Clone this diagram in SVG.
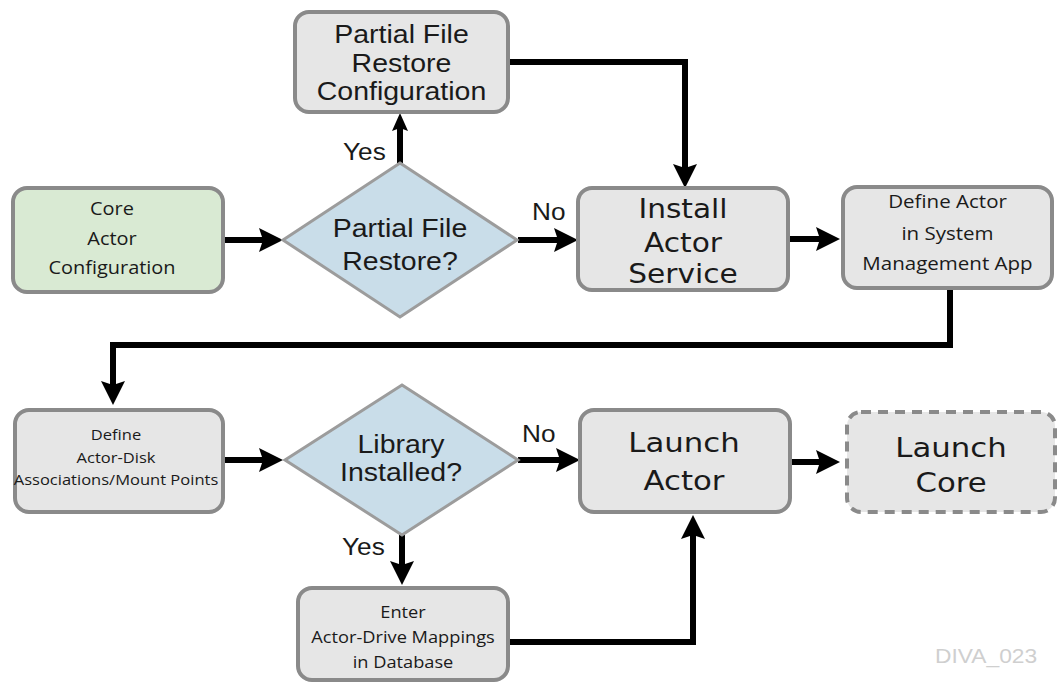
<svg xmlns="http://www.w3.org/2000/svg" width="1058" height="685" viewBox="0 0 1058 685">
<style>
.box{fill:#e6e6e6;stroke:#8a8a8a;stroke-width:4}
.green{fill:#d9ead3}
.dash{stroke-dasharray:10 7}
.dia{fill:#c9dde9;stroke:#9c9c9c;stroke-width:3}
.ar{font-family:"Liberation Sans",Arial,sans-serif;fill:#1a1a1a;text-anchor:middle}
.dv{font-family:"DejaVu Sans",Verdana,sans-serif;fill:#1a1a1a;text-anchor:middle}
.os{font-family:"Open Sans","Noto Sans",sans-serif;fill:#1a1a1a;text-anchor:middle}
.lbl{font-family:"Liberation Sans",Arial,sans-serif;fill:#1a1a1a;font-size:23px}
.conn{fill:none;stroke:#000;stroke-width:6}
</style>
<defs>
<marker id="ah" markerUnits="userSpaceOnUse" markerWidth="24" markerHeight="24" refX="14" refY="12" orient="auto">
<path d="M0,0 L24,12 L0,24 L4,12 z" fill="#000"/>
</marker>
<marker id="ahs" markerUnits="userSpaceOnUse" markerWidth="18" markerHeight="16" refX="10" refY="8" orient="auto">
<path d="M0,0 L18,8 L0,16 L3,8 z" fill="#000"/>
</marker>
</defs>
<rect width="1058" height="685" fill="#fff"/>

<g id="connectors">
<path class="conn" d="M223,240 H273" marker-end="url(#ah)"/>
<path class="conn" d="M400,163 V121" marker-end="url(#ahs)"/>
<path class="conn" d="M508,62 H685 V178" marker-end="url(#ah)"/>
<path class="conn" d="M518,240 H568" marker-end="url(#ah)"/>
<path class="conn" d="M788,239 H830" marker-end="url(#ah)"/>
<path class="conn" d="M950,288 V345 H113 V395" marker-end="url(#ah)"/>
<path class="conn" d="M223,460 H273" marker-end="url(#ah)"/>
<path class="conn" d="M518,460 H570" marker-end="url(#ah)"/>
<path class="conn" d="M790,462 H830" marker-end="url(#ah)"/>
<path class="conn" d="M402,535 V575" marker-end="url(#ah)"/>
<path class="conn" d="M508,642 H693 V525" marker-end="url(#ah)"/>
<g class="lbl">
<text transform="translate(343,160) scale(1.14,1)">Yes</text>
<text transform="translate(532,220) scale(1.14,1)">No</text>
<text transform="translate(522,442) scale(1.14,1)">No</text>
<text transform="translate(342,555) scale(1.14,1)">Yes</text>
</g>
</g>

<g id="partial-config">
<rect class="box" x="295" y="12" width="213" height="100" rx="14"/>
<g class="ar" font-size="25" transform="translate(401.5,0) scale(1.14,1)">
<text x="0" y="43">Partial File</text>
<text x="0" y="72">Restore</text>
<text x="0" y="100">Configuration</text>
</g>
</g>

<g id="core-config">
<rect class="box green" x="13" y="188" width="210" height="104" rx="14"/>
<g class="os" font-size="17.5" transform="translate(112,0) scale(1.14,1)">
<text x="0" y="215">Core</text>
<text x="0" y="245">Actor</text>
<text x="0" y="274">Configuration</text>
</g>
</g>

<g id="partial-decision">
<polygon class="dia" points="400,163 517,240 400,317 283,240"/>
<g class="ar" font-size="25" transform="translate(400,0) scale(1.14,1)">
<text x="0" y="237">Partial File</text>
<text x="0" y="270">Restore?</text>
</g>
</g>

<g id="install-service">
<rect class="box" x="578" y="188" width="210" height="102" rx="14"/>
<g class="dv" font-size="26" transform="translate(683,0) scale(1.14,1)">
<text x="0" y="218">Install</text>
<text x="0" y="252">Actor</text>
<text x="0" y="283">Service</text>
</g>
</g>

<g id="define-actor">
<rect class="box" x="843" y="187" width="209" height="101" rx="14"/>
<g class="os" font-size="18" transform="translate(947.5,0) scale(1.14,1)">
<text x="0" y="208">Define Actor</text>
<text x="0" y="240">in System</text>
<text x="0" y="270">Management App</text>
</g>
</g>

<g id="define-disk">
<rect class="box" x="15" y="410" width="208" height="102" rx="14"/>
<g class="os" font-size="14.5" transform="translate(116,0) scale(1.14,1)">
<text x="0" y="440">Define</text>
<text x="0" y="463">Actor-Disk</text>
<text x="0" y="485">Associations/Mount Points</text>
</g>
</g>

<g id="library-decision">
<polygon class="dia" points="402,385 518,460 402,535 285,460"/>
<g class="ar" font-size="25" transform="translate(401,0) scale(1.14,1)">
<text x="0" y="453">Library</text>
<text x="0" y="481">Installed?</text>
</g>
</g>

<g id="launch-actor">
<rect class="box" x="580" y="410" width="210" height="102" rx="14"/>
<g class="dv" font-size="27" transform="translate(684,0) scale(1.14,1)">
<text x="0" y="452">Launch</text>
<text x="0" y="490">Actor</text>
</g>
</g>

<g id="launch-core">
<rect class="box dash" x="847" y="412" width="208" height="100" rx="14"/>
<g class="dv" font-size="27" transform="translate(951,0) scale(1.14,1)">
<text x="0" y="457">Launch</text>
<text x="0" y="492">Core</text>
</g>
</g>

<g id="enter-mappings">
<rect class="box" x="298" y="588" width="210" height="92" rx="14"/>
<g class="os" font-size="16" transform="translate(403,0) scale(1.14,1)">
<text x="0" y="618">Enter</text>
<text x="0" y="643">Actor-Drive Mappings</text>
<text x="0" y="668">in Database</text>
</g>
</g>

<text font-family="Liberation Sans,Arial,sans-serif" font-size="20" fill="#cfcfcf" transform="translate(935,663) scale(1.14,1)">DIVA_023</text>
</svg>
